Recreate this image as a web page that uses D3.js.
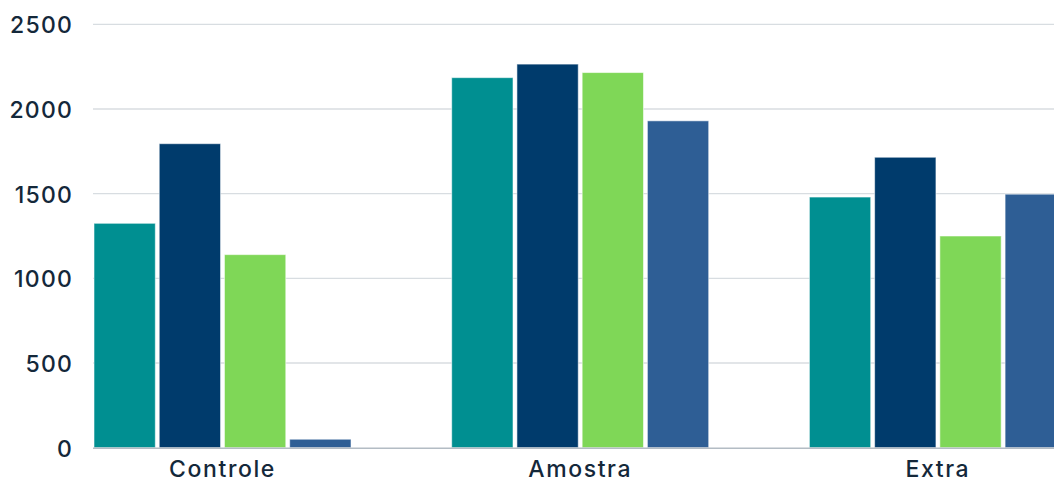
<!DOCTYPE html>
<html>
<head>
<meta charset="utf-8">
<script src="https://cdn.jsdelivr.net/npm/d3@7"></script>
<style>
  html, body { margin: 0; padding: 0; background: #fff; }
  svg { display: block; }
  text { font-family: Inter, "Open Sans", sans-serif; fill: #14283a; }
</style>
</head>
<body>
<svg id="chart" width="1054" height="483"></svg>
<script>
const categories = ["Controle", "Amostra", "Extra"];
const seriesNames = ["Série 1", "Série 2", "Série 3", "Série 4"];
const serie1 = [1325, 2185, 1480];
const serie2 = [1795, 2265, 1715];
const serie3 = [1140, 2215, 1250];
const serie4 = [50, 1930, 1497];
const yTicks = [0, 500, 1000, 1500, 2000, 2500];
const colors = ["#008f91", "#003b6c", "#7fd757", "#2e5e95"];

const seriesValues = [serie1, serie2, serie3, serie4];
const data = categories.map((c, i) => ({
  category: c,
  values: seriesNames.map((s, j) => ({ series: s, value: seriesValues[j][i] }))
}));

const svg = d3.select("#chart");
const plotLeft = 93, plotRight = 1054;

const y = d3.scaleLinear().domain([0, 2500]).range([447.7, 24.3]);
const x0 = d3.scaleBand().domain(categories).range([94, 1066.4]).paddingInner(0.2815).paddingOuter(0);
const x1 = d3.scaleBand().domain(seriesNames).range([0, x0.bandwidth()]).paddingInner(0.06);
const color = d3.scaleOrdinal().domain(seriesNames).range(colors);

// gridlines
svg.append("g").selectAll("line").data(yTicks.filter(t => t > 0)).join("line")
  .attr("x1", plotLeft).attr("x2", plotRight)
  .attr("y1", d => y(d)).attr("y2", d => y(d))
  .attr("stroke", "#d8dde1").attr("stroke-width", 1.3);

// y axis labels
const yAxis = d3.axisLeft(y).tickValues(yTicks).tickSize(0).tickPadding(0).tickFormat(d3.format("d"));
const gy = svg.append("g").attr("transform", "translate(73,1)").call(yAxis);
gy.select(".domain").remove();
gy.selectAll("text").style("font-size", "23px").style("font-weight", 500)
  .attr("fill", "#14283a").style("letter-spacing", "1.2px");

// bars
const groups = svg.append("g").selectAll("g").data(data).join("g")
  .attr("transform", d => `translate(${x0(d.category)},0)`);
groups.selectAll("rect").data(d => d.values).join("rect")
  .attr("x", d => x1(d.series))
  .attr("width", x1.bandwidth())
  .attr("y", d => y(d.value))
  .attr("height", d => y(0) - y(d.value))
  .attr("fill", d => color(d.series))
  .attr("stroke", "rgba(255,255,255,0.55)")
  .attr("stroke-width", 1);

// x axis baseline
svg.append("line")
  .attr("x1", plotLeft).attr("x2", plotRight)
  .attr("y1", y(0) + 0.5).attr("y2", y(0) + 0.5)
  .attr("stroke", "#b3bcc4").attr("stroke-width", 1.5);

// x labels
const xAxis = d3.axisBottom(x0).tickSize(0).tickPadding(0);
const gx = svg.append("g").attr("transform", "translate(0,460)").call(xAxis);
gx.select(".domain").remove();
gx.selectAll("text").attr("dy", "0").attr("y", 16.5)
  .style("font-size", "23px").style("font-weight", 500)
  .attr("fill", "#14283a").style("letter-spacing", "1.6px");
</script>
</body>
</html>
